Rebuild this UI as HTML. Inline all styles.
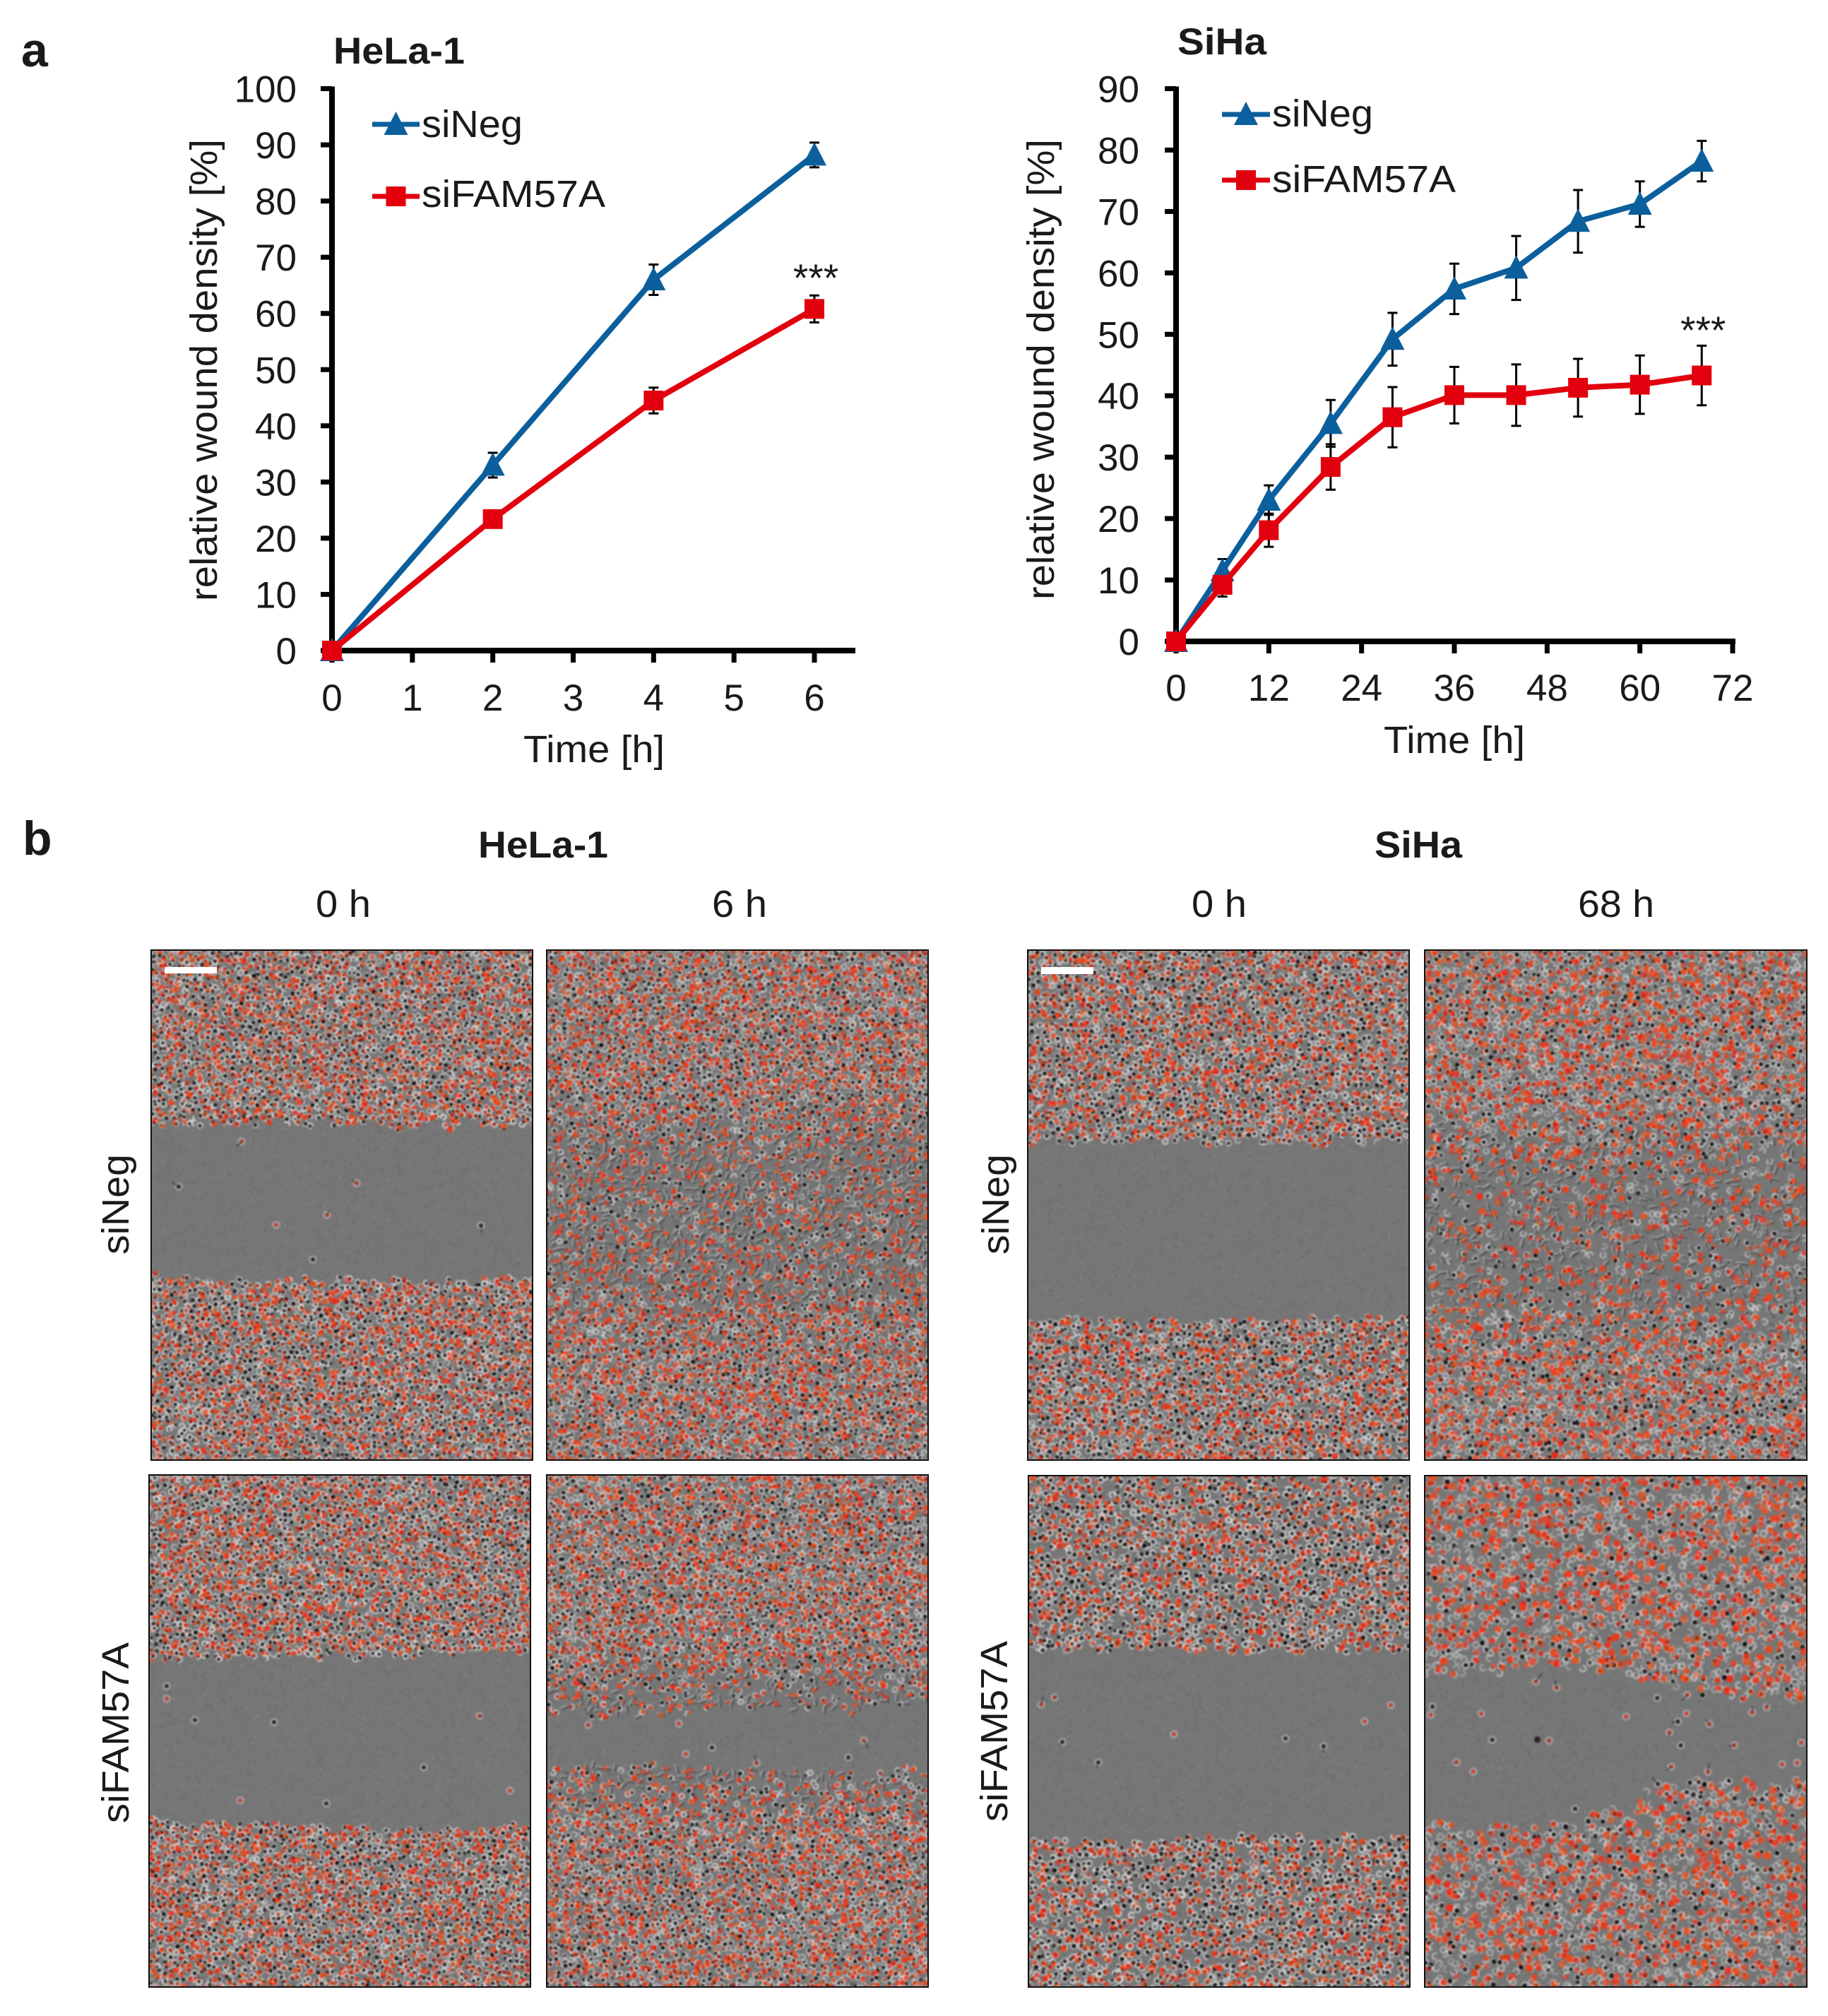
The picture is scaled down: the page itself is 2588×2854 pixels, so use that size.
<!DOCTYPE html>
<html lang="en">
<head>
<meta charset="utf-8">
<title>Wound density charts and micrographs</title>
<style>
html,body{margin:0;padding:0;background:#fff;}
#page{position:relative;width:2588px;height:2854px;overflow:hidden;background:#fff;font-family:"Liberation Sans",sans-serif;}
.micro{position:absolute;overflow:hidden;box-sizing:border-box;background:#787878;}
.micro canvas{position:absolute;left:0;top:0;filter:blur(1px);}
.micro .frame{position:absolute;inset:0;border:2px solid #111;box-sizing:border-box;}
.scale{position:absolute;background:#fff;}
svg{position:absolute;left:0;top:0;}
text{font-family:"Liberation Sans",sans-serif;fill:#1a1a1a;}
</style>
</head>
<body>
<div id="page">
  <div id="panels"></div>
  <svg id="fig" width="2588" height="2854" viewBox="0 0 2588 2854">
    <text x="30" y="94" font-size="68" font-weight="bold">a</text>
    <text x="32" y="1210" font-size="68" font-weight="bold">b</text>
    <text x="472" y="90" font-size="53" font-weight="bold" textLength="186" lengthAdjust="spacingAndGlyphs">HeLa-1</text>
    <text x="1667" y="77" font-size="53" font-weight="bold" textLength="126" lengthAdjust="spacingAndGlyphs">SiHa</text>
    <text x="677" y="1214" font-size="53" font-weight="bold" textLength="184" lengthAdjust="spacingAndGlyphs">HeLa-1</text>
    <text x="1946" y="1214" font-size="53" font-weight="bold" textLength="124" lengthAdjust="spacingAndGlyphs">SiHa</text>
    <text x="447" y="1298" font-size="54" textLength="78" lengthAdjust="spacingAndGlyphs">0 h</text>
    <text x="1008" y="1298" font-size="54" textLength="78" lengthAdjust="spacingAndGlyphs">6 h</text>
    <text x="1687" y="1298" font-size="54" textLength="78" lengthAdjust="spacingAndGlyphs">0 h</text>
    <text x="2234" y="1298" font-size="54" textLength="108" lengthAdjust="spacingAndGlyphs">68 h</text>
    <text transform="translate(182,1776) rotate(-90)" font-size="54" textLength="142" lengthAdjust="spacingAndGlyphs">siNeg</text>
    <text transform="translate(182,2581) rotate(-90)" font-size="54" textLength="256" lengthAdjust="spacingAndGlyphs">siFAM57A</text>
    <text transform="translate(1428,1776) rotate(-90)" font-size="54" textLength="142" lengthAdjust="spacingAndGlyphs">siNeg</text>
    <text transform="translate(1426,2579) rotate(-90)" font-size="54" textLength="256" lengthAdjust="spacingAndGlyphs">siFAM57A</text>
    <g id="hela-chart"></g>
    <g id="siha-chart"></g>
  </svg>
</div>
<script>
// ---- chart data ----
const helaHours = [0, 2, 4, 6];
const helaNeg = [0, 33, 66, 88.2];
const helaNegErr = [0, 2.2, 2.7, 2.2];
const helaFam = [0, 23.4, 44.5, 60.8];
const helaFamErr = [0, 1, 2.3, 2.4];
const helaYTicks = [0, 10, 20, 30, 40, 50, 60, 70, 80, 90, 100];
const helaXTicks = [0, 1, 2, 3, 4, 5, 6];

const sihaHours = [0, 6, 12, 20, 28, 36, 44, 52, 60, 68];
const sihaNeg = [0, 11.5, 23, 35.5, 49.2, 57.4, 60.8, 68.4, 71.2, 78.2];
const sihaNegErr = [0, 1.9, 2.4, 3.8, 4.3, 4.1, 5.2, 5.1, 3.7, 3.3];
const sihaFam = [0, 9.2, 18.1, 28.4, 36.5, 40.1, 40.1, 41.3, 41.8, 43.3];
const sihaFamErr = [0, 1.9, 2.7, 3.7, 4.9, 4.6, 5, 4.7, 4.75, 4.85];
const sihaYTicks = [0, 10, 20, 30, 40, 50, 60, 70, 80, 90];
const sihaXTicks = [0, 12, 24, 36, 48, 60, 72];

const BLUE = '#0b5f9c';
const RED = '#e2000f';
const NS = 'http://www.w3.org/2000/svg';

function mk(parent, tag, attrs, txt) {
  const el = document.createElementNS(NS, tag);
  for (const k in attrs) el.setAttribute(k, attrs[k]);
  if (txt !== undefined) el.textContent = txt;
  parent.appendChild(el);
  return el;
}

function drawChart(root, c) {
  const sx = v => c.x0 + (v - c.xMin) / (c.xMax - c.xMin) * (c.x1 - c.x0);
  const sy = v => c.y0 - (v - c.yMin) / (c.yMax - c.yMin) * (c.y0 - c.y1);

  // axes
  let el = mk(root, 'line', {x1: c.x0, y1: sy(c.yMax) - 3, x2: c.x0, y2: c.y0 + 4, stroke: '#000', 'stroke-width': 8});
  
  
  el = mk(root, 'line', {x1: c.x0 - 4, y1: c.y0, x2: c.xEnd, y2: c.y0, stroke: '#000', 'stroke-width': 8});
  
  

  c.yTicks.forEach(v => {
    const t = mk(root, 'line', {x1: c.x0 - 16, y1: sy(v), x2: c.x0, y2: sy(v), stroke: '#000', 'stroke-width': 7});
    
    
    const l = mk(root, 'text', {x: c.yLabelX, y: sy(v) + 19, 'font-size': 53, 'text-anchor': 'end'}, String(v));
    
    
  });
  c.xTicks.forEach(v => {
    const t = mk(root, 'line', {x1: sx(v), y1: c.y0, x2: sx(v), y2: c.y0 + 17, stroke: '#000', 'stroke-width': 7});
    
    
    const l = mk(root, 'text', {x: sx(v), y: c.xLabelY, 'font-size': 53, 'text-anchor': 'middle'}, String(v));
    
    
  });

  el = mk(root, 'text', {x: c.tx, y: c.ty, 'font-size': 54, textLength: c.tw, lengthAdjust: 'spacingAndGlyphs'}, 'Time [h]');
  
  
  el = mk(root, 'text', {transform: 'translate(' + c.ylx + ',' + c.yly + ') rotate(-90)', 'font-size': 54, textLength: c.ylw, lengthAdjust: 'spacingAndGlyphs'}, 'relative wound density [%]');
  
  

  // error bars
  function bars(vals, errs, name) {
    vals.forEach((v, i) => {
      if (!errs[i]) return;
      const x = sx(c.hours[i]);
      const g = mk(root, 'path', {
        d: 'M' + x + ' ' + sy(v + errs[i]) + 'V' + sy(v - errs[i]) +
           'M' + (x - 7) + ' ' + sy(v + errs[i]) + 'h14M' + (x - 7) + ' ' + sy(v - errs[i]) + 'h14',
        stroke: '#000', 'stroke-width': 3, fill: 'none'});
      
      
    });
  }
  function tri(x, y, name) {
    const m = mk(root, 'path', {d: 'M' + x + ' ' + (y - 18) + 'L' + (x + 17) + ' ' + (y + 15) + 'H' + (x - 17) + 'Z', fill: BLUE});
    
    
  }
  function sq(x, y, name) {
    const m = mk(root, 'rect', {x: x - 14, y: y - 14, width: 28, height: 28, fill: RED});
    
    
  }
  function series(vals, col, name) {
    const p = mk(root, 'polyline', {points: vals.map((v, i) => sx(c.hours[i]) + ',' + sy(v)).join(' '), fill: 'none', stroke: col, 'stroke-width': 8, 'stroke-linejoin': 'round'});
    
    
  }
  bars(c.neg, c.negErr, 'error-bar-sineg');
  bars(c.fam, c.famErr, 'error-bar-sifam57a');
  series(c.neg, BLUE, 'line-sineg');
  c.neg.forEach((v, i) => tri(sx(c.hours[i]), sy(v), 'point-sineg'));
  series(c.fam, RED, 'line-sifam57a');
  c.fam.forEach((v, i) => sq(sx(c.hours[i]), sy(v), 'point-sifam57a'));

  // legend
  const lg = c.legend;
  el = mk(root, 'line', {x1: lg.x0, x2: lg.x1, y1: lg.y1, y2: lg.y1, stroke: BLUE, 'stroke-width': 7});
  
  
  tri((lg.x0 + lg.x1) / 2, lg.y1, 'legend-marker-sineg');
  el = mk(root, 'text', {x: lg.tx, y: lg.b1, 'font-size': 54, textLength: 143, lengthAdjust: 'spacingAndGlyphs'}, 'siNeg');
  
  
  el = mk(root, 'line', {x1: lg.x0, x2: lg.x1, y1: lg.y2, y2: lg.y2, stroke: RED, 'stroke-width': 7});
  
  
  sq((lg.x0 + lg.x1) / 2, lg.y2, 'legend-marker-sifam57a');
  el = mk(root, 'text', {x: lg.tx, y: lg.b2, 'font-size': 54, textLength: 260, lengthAdjust: 'spacingAndGlyphs'}, 'siFAM57A');
  
  

  el = mk(root, 'text', {x: sx(c.hours[c.hours.length - 1]) + 2, y: c.starY, 'font-size': 55, 'text-anchor': 'middle'}, '***');
  
  
}

drawChart(document.getElementById('hela-chart'), {
  x0: 470, x1: 1153, xMin: 0, xMax: 6, xEnd: 1211,
  y0: 921, y1: 125.5, yMin: 0, yMax: 100,
  yTicks: helaYTicks, xTicks: helaXTicks, hours: helaHours,
  neg: helaNeg, negErr: helaNegErr, fam: helaFam, famErr: helaFamErr,
  yLabelX: 420, xLabelY: 1006, tx: 741, ty: 1079, tw: 200,
  ylx: 307, yly: 851, ylw: 654, starY: 412,
  legend: {x0: 527, x1: 594, y1: 176, y2: 278, tx: 597, b1: 194, b2: 293}
});
drawChart(document.getElementById('siha-chart'), {
  x0: 1665, x1: 2453, xMin: 0, xMax: 72, xEnd: 2457,
  y0: 908, y1: 125.5, yMin: 0, yMax: 90,
  yTicks: sihaYTicks, xTicks: sihaXTicks, hours: sihaHours,
  neg: sihaNeg, negErr: sihaNegErr, fam: sihaFam, famErr: sihaFamErr,
  yLabelX: 1613, xLabelY: 992, tx: 1959, ty: 1066, tw: 200,
  ylx: 1492, yly: 849, ylw: 652, starY: 486,
  legend: {x0: 1730, x1: 1798, y1: 162, y2: 255, tx: 1801, b1: 179, b2: 272}
});

// ---- micrograph textures (seeded, purely decorative photograph stand-ins) ----
function rng(a) {
  return function () {
    a |= 0; a = a + 0x6D2B79F5 | 0;
    let t = Math.imul(a ^ a >>> 15, 1 | a);
    t = t + Math.imul(t ^ t >>> 7, 61 | t) ^ t;
    return ((t ^ t >>> 14) >>> 0) / 4294967296;
  };
}
function edge(keys, f) {
  for (let i = 1; i < keys.length; i++) {
    if (f <= keys[i][0]) {
      const a = keys[i - 1], b = keys[i];
      return a[1] + (b[1] - a[1]) * (f - a[0]) / (b[0] - a[0]);
    }
  }
  return keys[keys.length - 1][1];
}
function strayCell(ctx, x, y, r, big) {
  ctx.strokeStyle = 'rgba(215,215,215,.6)';
  ctx.lineWidth = 2;
  ctx.beginPath(); ctx.arc(x, y, 4.5, 0, 7); ctx.stroke();
  ctx.fillStyle = r() < .5 ? 'rgba(30,22,22,.85)' : 'rgba(225,55,35,.85)';
  ctx.beginPath(); ctx.arc(x, y, big ? 5 : 2.8, 0, 7); ctx.fill();
  if (r() < .5) {
    ctx.strokeStyle = 'rgba(40,40,40,.6)';
    ctx.beginPath(); ctx.moveTo(x, y); ctx.lineTo(x + (r() - .5) * 18, y + (r() - .5) * 24); ctx.stroke();
  }
}
function drawMicro(cfg) {
  const host = document.getElementById('panels');
  const w = cfg.x1 - cfg.x0, h = cfg.y1 - cfg.y0;
  const box = document.createElement('div');
  box.className = 'micro';
  box.style.cssText = 'left:' + cfg.x0 + 'px;top:' + cfg.y0 + 'px;width:' + w + 'px;height:' + h + 'px;';
  
  
  const cv = document.createElement('canvas');
  cv.width = w; cv.height = h;
  box.appendChild(cv);
  const ctx = cv.getContext('2d');
  const r = rng(cfg.seed);
  ctx.fillStyle = '#767676';
  ctx.fillRect(0, 0, w, h);
  for (let k = 0; k < w * h / 40; k++) {
    const g = 108 + Math.floor(r() * 22);
    ctx.fillStyle = 'rgb(' + g + ',' + g + ',' + g + ')';
    ctx.fillRect(r() * w, r() * h, 3, 3);
  }
  const s = cfg.s;
  const z = cfg.zone;
  const cols = Math.ceil(w / s) + 1, rows = Math.ceil(h / s) + 1;
  for (let j = 0; j < rows; j++) {
    for (let i = 0; i < cols; i++) {
      const x = i * s + (j % 2 ? s / 2 : 0) + (r() - .5) * s * .85;
      const y = j * s + (r() - .5) * s * .85;
      const py = y + cfg.y0, f = x / w;
      const wob = Math.sin(x * .09 + cfg.seed) * 3 + (r() - .5) * 6;
      if (cfg.top && py + wob > edge(cfg.top, f) && py - wob < edge(cfg.bottom, f)) continue;
      let keep = cfg.density || 1, elong = 0;
      if (z && py > z[0] && py < z[3]) {
        let t = py < z[1] ? (py - z[0]) / (z[1] - z[0]) : py > z[2] ? (z[3] - py) / (z[3] - z[2]) : 1;
        keep *= 1 - t * (1 - z[4]);
        elong = t * .6;
      }
      if (r() > keep) continue;
      const isLong = r() < elong;
      const red = r() < cfg.pRed * (1 - elong * .4);
      if (isLong) {
        const a = r() * Math.PI, L = s * .5;
        const dx = Math.cos(a) * L, dy = Math.sin(a) * L;
        ctx.lineCap = 'round';
        ctx.strokeStyle = 'rgba(222,222,222,.42)';
        ctx.lineWidth = 2.2;
        ctx.beginPath(); ctx.moveTo(x - dx, y - dy); ctx.lineTo(x + dx, y + dy); ctx.stroke();
        ctx.strokeStyle = 'rgba(22,22,22,.42)';
        ctx.beginPath(); ctx.moveTo(x - dx + 2.5, y - dy + 2); ctx.lineTo(x + dx + 2.5, y + dy + 2); ctx.stroke();
      } else {
        const a = cfg.ring * (.5 + r() * .5);
        ctx.strokeStyle = 'rgba(232,230,230,' + a + ')';
        ctx.lineWidth = s * .27;
        ctx.lineCap = 'round';
        const st = r() * 6;
        ctx.beginPath(); ctx.arc(x, y, s * .42, st, st + 2.5 + r() * 3.5); ctx.stroke();
        if (r() < cfg.pDark) {
          ctx.fillStyle = 'rgba(8,6,6,' + (.65 + r() * .35) + ')';
          ctx.beginPath(); ctx.arc(x + (r() - .5) * 2, y + (r() - .5) * 2, s * (.22 + r() * .12), 0, 7); ctx.fill();
        }
      }
      if (red) {
        ctx.fillStyle = 'rgba(240,' + Math.floor(40 + r() * 40) + ',22,' + (.55 + r() * .4) + ')';
        ctx.beginPath(); ctx.arc(x + (r() - .5) * 5, y + (r() - .5) * 5, cfg.red * (.7 + r() * .55), 0, 7); ctx.fill();
      }
    }
  }
  (cfg.strays || []).forEach(p => strayCell(ctx, p[0] - cfg.x0, p[1] - cfg.y0, r, false));
  if (cfg.scatter) {
    for (let k = 0; k < cfg.scatter; k++) {
      const x = r() * w, f = x / w;
      const a = edge(cfg.top, f), b = edge(cfg.bottom, f);
      strayCell(ctx, x, a + r() * (b - a) - cfg.y0, r, r() < .15);
    }
  }
  const frame = document.createElement('div');
  frame.className = 'frame';
  box.appendChild(frame);
  if (cfg.bar) {
    const sb = document.createElement('div');
    sb.className = 'scale';
    sb.style.cssText = 'left:' + (cfg.bar[0] - cfg.x0) + 'px;top:' + (cfg.bar[1] - cfg.y0) + 'px;width:' + cfg.bar[2] + 'px;height:' + cfg.bar[3] + 'px;';
    
    
    box.appendChild(sb);
  }
  host.appendChild(box);
}

[
  {name: 'micrograph-hela-sineg-0h', seed: 11, x0: 213, x1: 755, y0: 1344, y1: 2068, s: 8.5, pRed: .62, red: 3.3, ring: .92, pDark: .9,
   top: [[0, 1594], [.3, 1592], [.55, 1594], [1, 1594]], bottom: [[0, 1806], [.25, 1813], [.5, 1811], [.8, 1816], [1, 1806]],
   strays: [[342, 1616], [253, 1680], [505, 1675], [463, 1720], [391, 1734], [681, 1735], [443, 1783]], bar: [233, 1369, 74, 9]},
  {name: 'micrograph-hela-sineg-6h', seed: 23, x0: 773, x1: 1315, y0: 1344, y1: 2068, s: 8.5, pRed: .62, red: 3.3, ring: .78, pDark: .72,
   zone: [1540, 1640, 1800, 1920, .82]},
  {name: 'micrograph-siha-sineg-0h', seed: 37, x0: 1454, x1: 1996, y0: 1344, y1: 2068, s: 8.8, pRed: .52, red: 3.6, ring: .85, pDark: .78,
   top: [[0, 1616], [.4, 1617], [.8, 1618], [1, 1616]], bottom: [[0, 1866], [.5, 1868], [1, 1864]], bar: [1474, 1369, 74, 10]},
  {name: 'micrograph-siha-sineg-68h', seed: 41, x0: 2016, x1: 2559, y0: 1344, y1: 2068, s: 9, pRed: .52, red: 4, ring: .68, pDark: .42,
   zone: [1560, 1660, 1820, 1920, .62]},
  {name: 'micrograph-hela-sifam57a-0h', seed: 53, x0: 210, x1: 752, y0: 2087, y1: 2814, s: 8.5, pRed: .62, red: 3.3, ring: .92, pDark: .9,
   top: [[0, 2350], [.5, 2347], [.8, 2339], [1, 2340]], bottom: [[0, 2577], [.4, 2583], [.65, 2590], [.85, 2590], [1, 2578]],
   strays: [[236, 2387], [236, 2405], [276, 2435], [388, 2438], [679, 2429], [600, 2502], [340, 2549], [462, 2553], [722, 2535]]},
  {name: 'micrograph-hela-sifam57a-6h', seed: 67, x0: 773, x1: 1315, y0: 2087, y1: 2814, s: 8.5, pRed: .6, red: 3.3, ring: .8, pDark: .72,
   top: [[0, 2427], [.1, 2430], [.3, 2428], [.5, 2418], [.8, 2422], [1, 2410]], bottom: [[0, 2500], [.3, 2497], [.5, 2505], [.8, 2510], [1, 2500]],
   zone: [2330, 2410, 2505, 2590, .55],
   strays: [[833, 2442], [961, 2440], [1008, 2474], [971, 2483], [1223, 2464], [1201, 2488], [1071, 2496]]},
  {name: 'micrograph-siha-sifam57a-0h', seed: 71, x0: 1455, x1: 1997, y0: 2088, y1: 2814, s: 9.3, pRed: .52, red: 3.6, ring: .88, pDark: .88, density: .9,
   top: [[0, 2338], [.3, 2334], [.6, 2338], [1, 2336]], bottom: [[0, 2602], [.3, 2606], [.6, 2600], [1, 2602]],
   strays: [[1493, 2403], [1474, 2413], [1932, 2437], [1969, 2414], [1662, 2455], [1820, 2461], [1874, 2472], [1504, 2466], [1555, 2495]]},
  {name: 'micrograph-siha-sifam57a-68h', seed: 83, x0: 2016, x1: 2559, y0: 2088, y1: 2814, s: 10, pRed: .5, red: 4.6, ring: .6, pDark: .3, density: .85,
   top: [[0, 2375], [.3, 2360], [.55, 2375], [.7, 2395], [1, 2410]], bottom: [[0, 2565], [.1, 2590], [.3, 2587], [.5, 2560], [.6, 2530], [.8, 2520], [1, 2525]],
   scatter: 30}
].forEach(drawMicro);
</script>
</body>
</html>
